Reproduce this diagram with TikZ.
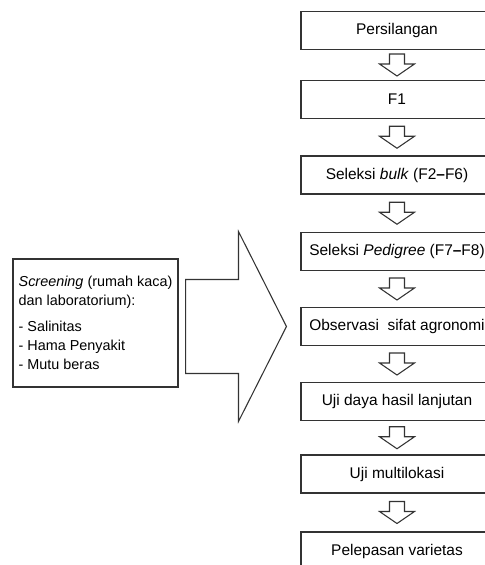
\documentclass[tikz,border=0pt]{standalone}
\usepackage{fontspec}
\setmainfont{Liberation Sans}
\usetikzlibrary{positioning, calc}

% hollow arrow between two stages
\newcommand{\stagearrow}[2]{%
  \coordinate (mid) at ($(#1.south)!0.5!(#2.north)$);
  \draw[hollow] ($(mid)+(-7.5,-11)$) -- ($(mid)+(7.5,-11)$) -- ($(mid)+(7.5,-1)$)
    -- ($(mid)+(17.5,-1)$) -- ($(mid)+(0,11)$) -- ($(mid)+(-17.5,-1)$)
    -- ($(mid)+(-7.5,-1)$) -- cycle;}

\begin{document}
\begin{tikzpicture}[x=0.75pt, y=-0.75pt,
    stage/.style={draw=black!80, line width=0.8pt, minimum width=144pt,
      minimum height=28.5pt, inner sep=0pt, align=center,
      font=\fontsize{11.6}{13}\selectfont},
    hollow/.style={draw=black!80, line width=0.8pt, fill=white, line join=miter}]
  \useasboundingbox (0,0) rectangle (485,565);
  \clip (0,0) rectangle (485,565);

  \node[stage] (cross) at (397,30.5) {Persilangan};
  \node[stage] (fone) at (397,99.5) {F1};
  \node[stage] (bulk) at (397,175) {Seleksi \textit{bulk} (F2\textbf{--}F6)};
  \node[stage] (pedigree) at (397,251.5) {Seleksi \textit{Pedigree} (F7\textbf{--}F8)};
  \node[stage] (agro) at (397,326.5) {Observasi\ \ sifat agronomi};
  \node[stage] (yield) at (397,401.5) {Uji daya hasil lanjutan};
  \node[stage] (multi) at (397,474) {Uji multilokasi};
  \node[stage] (release) at (397,551) {Pelepasan varietas};

  \stagearrow{cross}{fone}
  \stagearrow{fone}{bulk}
  \stagearrow{bulk}{pedigree}
  \stagearrow{pedigree}{agro}
  \stagearrow{agro}{yield}
  \stagearrow{yield}{multi}
  \stagearrow{multi}{release}

  \node[draw=black!80, line width=0.8pt, minimum width=123.75pt, minimum height=96pt,
    align=left, font=\fontsize{10.8}{14.2}\selectfont] (screen) at (95.5,323)
    {\textit{Screening} (rumah kaca)\\ dan laboratorium):\\[5pt]
     - Salinitas\\ - Hama Penyakit\\ - Mutu beras};

  \coordinate (tail) at ($(screen.east |- agro.west)+(7,0)$);
  \coordinate (tip) at ($(agro.west)+(-14,0)$);
  \draw[hollow] ($(tail)+(0,-47)$) -- ($(tip)+(-48,-47)$) -- ($(tip)+(-48,-95)$)
    -- (tip) -- ($(tip)+(-48,95)$) -- ($(tip)+(-48,47)$) -- ($(tail)+(0,47)$) -- cycle;
\end{tikzpicture}
\end{document}
